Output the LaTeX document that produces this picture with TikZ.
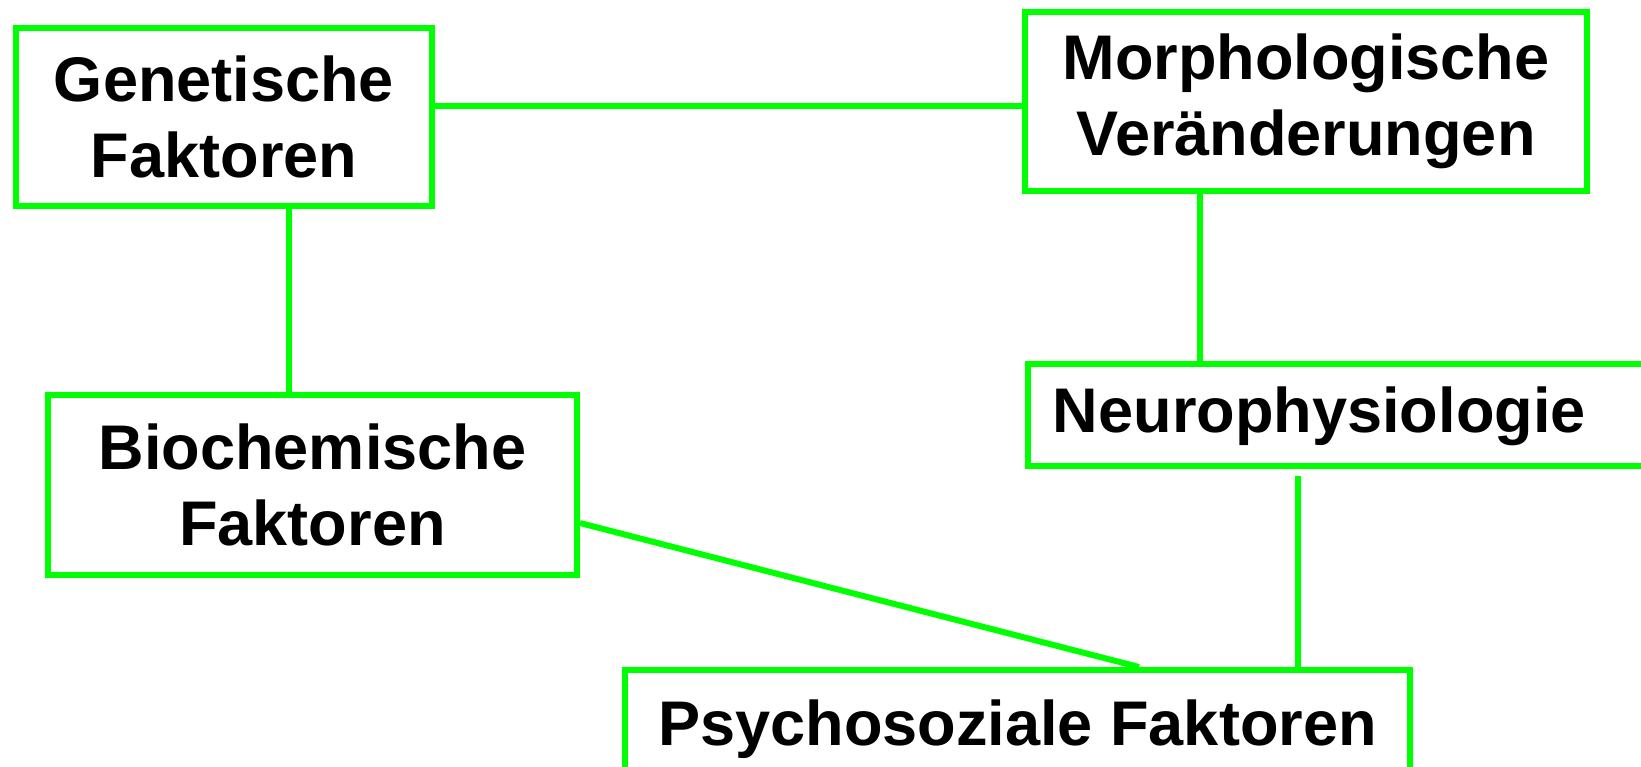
\documentclass[tikz,border=0pt]{standalone}
\usepackage{fontspec}
\setmainfont{Liberation Sans}
\usetikzlibrary{calc}
\definecolor{hellgruen}{RGB}{0,255,0}
\begin{document}
\begin{tikzpicture}[x=0.02cm, y=-0.02cm, line join=miter, line width=3.4pt,
		font=\fontsize{35.9pt}{43pt}\selectfont\bfseries,
		box/.style={draw=hellgruen, rectangle, inner sep=0pt, align=center},
		verb/.style={draw=hellgruen}]
		\useasboundingbox (0,0) rectangle (1641,767);
		\path
		node[box, minimum width=8.32cm, minimum height=3.56cm] (gen) at (224,117) {Genetische\\Faktoren}
		node[box, minimum width=11.24cm, minimum height=3.6cm] (morph) at (1306,101.5) {Morphologische\\Veränderungen}
		node[box, minimum width=10.58cm, minimum height=3.6cm] (bio) at (312.5,485) {Biochemische\\Faktoren}
		node[box, anchor=west, inner xsep=0.5cm, text width=12.1cm, align=left,
			text height=1.38cm, text depth=0.66cm] (neuro) at (1025,415) {Neurophysiologie}
		node[box, anchor=north, minimum width=15.7cm,
			text height=1.52cm, text depth=1.2cm] (psy) at (1017.5,667) {Psychosoziale Faktoren};
		% Verbindungen
		\draw[verb] ($(gen.east)+(0,-11)$) coordinate (g0) -- (g0 -| morph.west);
		\draw[verb] ($(gen.south)+(65,-5)$) coordinate (g1) -- (g1 |- bio.north);
		\draw[verb] ($(morph.south)+(-106,-6.5)$) coordinate (m1) -- (m1 |- neuro.north);
		\draw[verb] ($(neuro.south west)+(273,7)$) coordinate (n1) -- (n1 |- psy.north);
		\draw[verb] ($(bio.east)+(0,38)$) -- ($(psy.north)+(121.5,0)$);
	\end{tikzpicture}
\end{document}
